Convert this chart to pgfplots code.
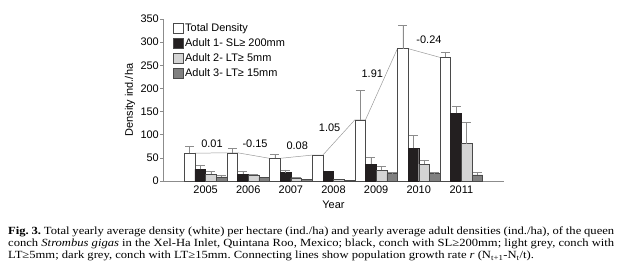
\documentclass[border=0pt]{standalone}
\usepackage{fontspec}
\setmainfont{Liberation Sans}
\newfontfamily\capfont[FakeStretch=1.15]{Liberation Serif}
\usepackage{pgfplots}
\pgfplotsset{compat=1.18}
\usepackage{pgfplotstable}

\definecolor{barblack}{HTML}{231F20}
\definecolor{barlight}{HTML}{D4D4D4}
\definecolor{bardark}{HTML}{808080}
\definecolor{axisgray}{HTML}{8C8C8C}
\definecolor{linegray}{HTML}{9A9A9A}
\definecolor{edgegray}{HTML}{4A4A4A}

% year, value, upper error
\pgfplotstableread{
year val err
2005 60 15.6
2006 61 9.5
2007 49 8.7
2009 132 64
2010 286 50
2011 267 11
}\totaltab
\pgfplotstableread{
year val
2008 56
}\totalnoerr
\pgfplotstableread{
year val err
2005 25 10
2006 15 6
2007 18 6
2009 36.7 14
2010 71 28
2011 146 15
}\blacktab
\pgfplotstableread{
year val
2008 21.6
}\blacknoerr
\pgfplotstableread{
year val err
2005 15 5
2006 13 2
2007 7 2
2009 23 9
2010 36.7 8
2011 81 45
}\lighttab
\pgfplotstableread{
year val
2008 3
}\lightnoerr
\pgfplotstableread{
year val err
2005 9 4
2009 16 2
2010 16 2
2011 13 5
}\darktab
\pgfplotstableread{
year val
2006 8
2007 4
2008 1.5
}\darknoerr

\begin{document}
\begin{tikzpicture}
\useasboundingbox (0,0) rectangle (627bp,276bp);
\begin{axis}[
  at={(163bp,95bp)}, anchor=south west,
  scale only axis, width=341bp, height=162bp,
  xmin=2004, xmax=2012, ymin=0, ymax=350,
  axis x line*=bottom, axis y line*=left,
  axis line style={-, axisgray, line width=0.6pt},
  ytick={0,50,...,350},
  xtick={2005,2006,2007,2008,2009,2010,2011},
  xticklabels={2005,2006,2007,2008,2009,2010,2011},
  x tick style={draw=none},
  y tick style={axisgray, line width=0.6pt},
  tick align=outside, major tick length=3bp,
  font=\fontsize{11}{12}\selectfont,
  yticklabel style={/pgf/number format/assume math mode=true, inner sep=1bp},
  xticklabel style={inner sep=2bp},
  xlabel={Year}, ylabel={Density ind./ha},
  xlabel style={at={(axis description cs:0.5,-0.148)}, anchor=center},
  ylabel style={at={(axis description cs:-0.097,0.5)}, anchor=center},
  ybar, bar width=0.25,
  clip=false,
  legend style={at={(axis description cs:0.029,0.981)}, anchor=north west,
    draw=none, fill=none, inner sep=0pt, row sep=2bp,
    nodes={inner sep=1.5bp, text height=7.5bp, text depth=2.5bp},
    font=\fontsize{11}{12}\selectfont},
  legend cell align=left,
  boxleg/.style={legend image code/.code={\draw[##1, draw=edgegray, line width=0.6pt] (0bp,-5bp) rectangle (10bp,5bp);}},
  errstyle/.style={error bars/y dir=plus, error bars/y explicit,
    error bars/error bar style={axisgray, line width=0.5pt},
    error bars/error mark options={axisgray, line width=0.5pt, mark size=4.5bp, rotate=90}},
]
% growth-rate connecting line
\addplot[sharp plot, linegray, line width=0.5pt, forget plot, mark=none] coordinates {
 (2004.75,60) (2005.5,61) (2005.75,61) (2006.5,49) (2006.75,49) (2007.5,56)
 (2007.75,56) (2008.5,132) (2008.75,132) (2009.5,286) (2009.75,286) (2010.5,267)};

\addplot[bar shift=-0.375, fill=white, draw=edgegray, line width=0.5pt, errstyle, boxleg]
  table[x=year, y=val, y error=err] {\totaltab};
\addlegendentry{Total Density}
\addplot[bar shift=-0.125, fill=barblack, draw=barblack, line width=0.5pt, errstyle, boxleg]
  table[x=year, y=val, y error=err] {\blacktab};
\addlegendentry{Adult 1- SL≥ 200mm}
\addplot[bar shift=0.125, fill=barlight, draw=edgegray, line width=0.5pt, errstyle, boxleg]
  table[x=year, y=val, y error=err] {\lighttab};
\addlegendentry{Adult 2- LT≥ 5mm}
\addplot[bar shift=0.375, fill=bardark, draw=edgegray, line width=0.5pt, errstyle, boxleg]
  table[x=year, y=val, y error=err] {\darktab};
\addlegendentry{Adult 3- LT≥ 15mm}

\addplot[bar shift=-0.375, fill=white, draw=edgegray, line width=0.5pt, forget plot]
  table[x=year, y=val] {\totalnoerr};
\addplot[bar shift=-0.125, fill=barblack, draw=barblack, line width=0.5pt, forget plot]
  table[x=year, y=val] {\blacknoerr};
\addplot[bar shift=0.125, fill=barlight, draw=edgegray, line width=0.5pt, forget plot]
  table[x=year, y=val] {\lightnoerr};
\addplot[bar shift=0.375, fill=bardark, draw=edgegray, line width=0.5pt, forget plot]
  table[x=year, y=val] {\darknoerr};

\node[font=\fontsize{11}{12}\selectfont] at (axis cs:2005.15,81) {0.01};
\node[font=\fontsize{11}{12}\selectfont] at (axis cs:2006.16,80) {-0.15};
\node[font=\fontsize{11}{12}\selectfont] at (axis cs:2007.15,76) {0.08};
\node[font=\fontsize{11}{12}\selectfont] at (axis cs:2007.91,115) {1.05};
\node[font=\fontsize{11}{12}\selectfont] at (axis cs:2008.91,232.5) {1.91};
\node[font=\fontsize{11}{12}\selectfont] at (axis cs:2010.24,304.5) {-0.24};
\end{axis}
\node[anchor=north west, inner sep=0pt, text width=606bp, align=justify] at (8bp,49bp)
 {\capfont\fontsize{11}{11.6}\selectfont\frenchspacing \textbf{Fig. 3.} Total yearly average density (white) per hectare (ind./ha) and yearly average adult densities (ind./ha), of the queen\linebreak conch \textit{Strombus gigas} in the Xel-Ha Inlet, Quintana Roo, Mexico; black, conch with SL≥200mm; light grey, conch with\linebreak LT≥5mm; dark grey, conch with LT≥15mm. Connecting lines show population growth rate \textit{r} (N\textsubscript{t+1}-N\textsubscript{t}/t).};
\end{tikzpicture}
\end{document}
